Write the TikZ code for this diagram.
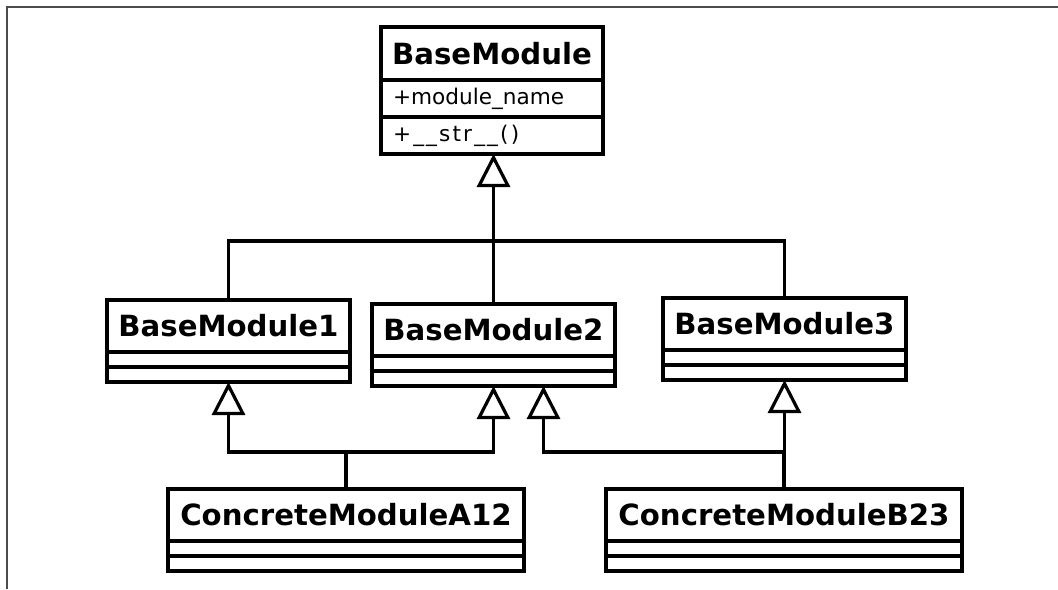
\documentclass[tikz,border=0pt]{standalone}
\usepackage{fontspec}
\usepackage{tikz}
\usetikzlibrary{arrows,arrows.meta,positioning}
\newfontfamily\umlfont{DejaVu Sans}
\newcommand{\clsfont}{\umlfont\bfseries\fontsize{14.6}{17}\selectfont}
\newcommand{\memfont}{\umlfont\fontsize{10.8}{13}\selectfont}
\tikzstyle{cls}=[draw,outer sep=0pt,inner sep=0pt,minimum height=26pt,font=\clsfont]
\tikzstyle{part}=[draw,outer sep=0pt,inner sep=0pt,minimum height=7.5pt]
\tikzstyle{memb}=[draw,outer sep=0pt,inner xsep=6pt,inner ysep=0pt,minimum height=18.5pt,align=left,font=\memfont]
\tikzstyle{inherit}=[-{Triangle[open,length=16.5pt,width=16.5pt]}]
\tikzstyle{frameline}=[line width=1.2pt,black!70]

\begin{document}
\begin{tikzpicture}[x=0.5pt,y=-0.5pt,line width=1.6pt]
\useasboundingbox (0,0) rectangle (1058,589);
\draw[frameline] (7,589) -- (7,7) -- (1058,7);
% base class
\node[cls,minimum width=111pt,minimum height=26.5pt] (BM) at (492,53.5) {BaseModule};
\node[memb,text width=99pt,below=0pt of BM] (BMa) {+module\_name};
\node[memb,text width=99pt,below=0pt of BMa] (BMo) {\addfontfeatures{LetterSpace=10}+\_\_str\_\_()};
% middle row
\node[cls,minimum width=121.5pt] (BM1) at (228.5,326) {BaseModule1};
\node[part,minimum width=121.5pt,below=0pt of BM1] (BM1a) {};
\node[part,minimum width=121.5pt,below=0pt of BM1a] (BM1o) {};
\node[cls,minimum width=121.5pt] (BM2) at (493.5,330) {BaseModule2};
\node[part,minimum width=121.5pt,below=0pt of BM2] (BM2a) {};
\node[part,minimum width=121.5pt,below=0pt of BM2a] (BM2o) {};
\node[cls,minimum width=121.5pt] (BM3) at (784.5,324) {BaseModule3};
\node[part,minimum width=121.5pt,below=0pt of BM3] (BM3a) {};
\node[part,minimum width=121.5pt,below=0pt of BM3a] (BM3o) {};
% concrete classes
\node[cls,minimum width=178pt] (CA) at (346,515) {ConcreteModuleA12};
\node[part,minimum width=178pt,below=0pt of CA] (CAa) {};
\node[part,minimum width=178pt,below=0pt of CAa] (CAo) {};
\node[cls,minimum width=178pt] (CB) at (784,515) {ConcreteModuleB23};
\node[part,minimum width=178pt,below=0pt of CB] (CBa) {};
\node[part,minimum width=178pt,below=0pt of CBa] (CBo) {};
% generalisations
\coordinate (top) at (493,241);
\coordinate (jA) at (346,452);
\coordinate (jB) at (784,452);
\draw[inherit] (BM2.north) -- (BM2.north |- BMo.south);
\draw (BM1.north) |- (top) -| (BM3.north);
\draw[inherit] (CA.north) -- (jA) -| (BM1o.south);
\draw[inherit] (jA) -| (BM2o.south);
\draw[inherit] (CB.north) -- (jB) -| (BM3o.south);
\draw[inherit] (jB) -| ([xshift=25pt]BM2o.south);
\end{tikzpicture}
\end{document}
